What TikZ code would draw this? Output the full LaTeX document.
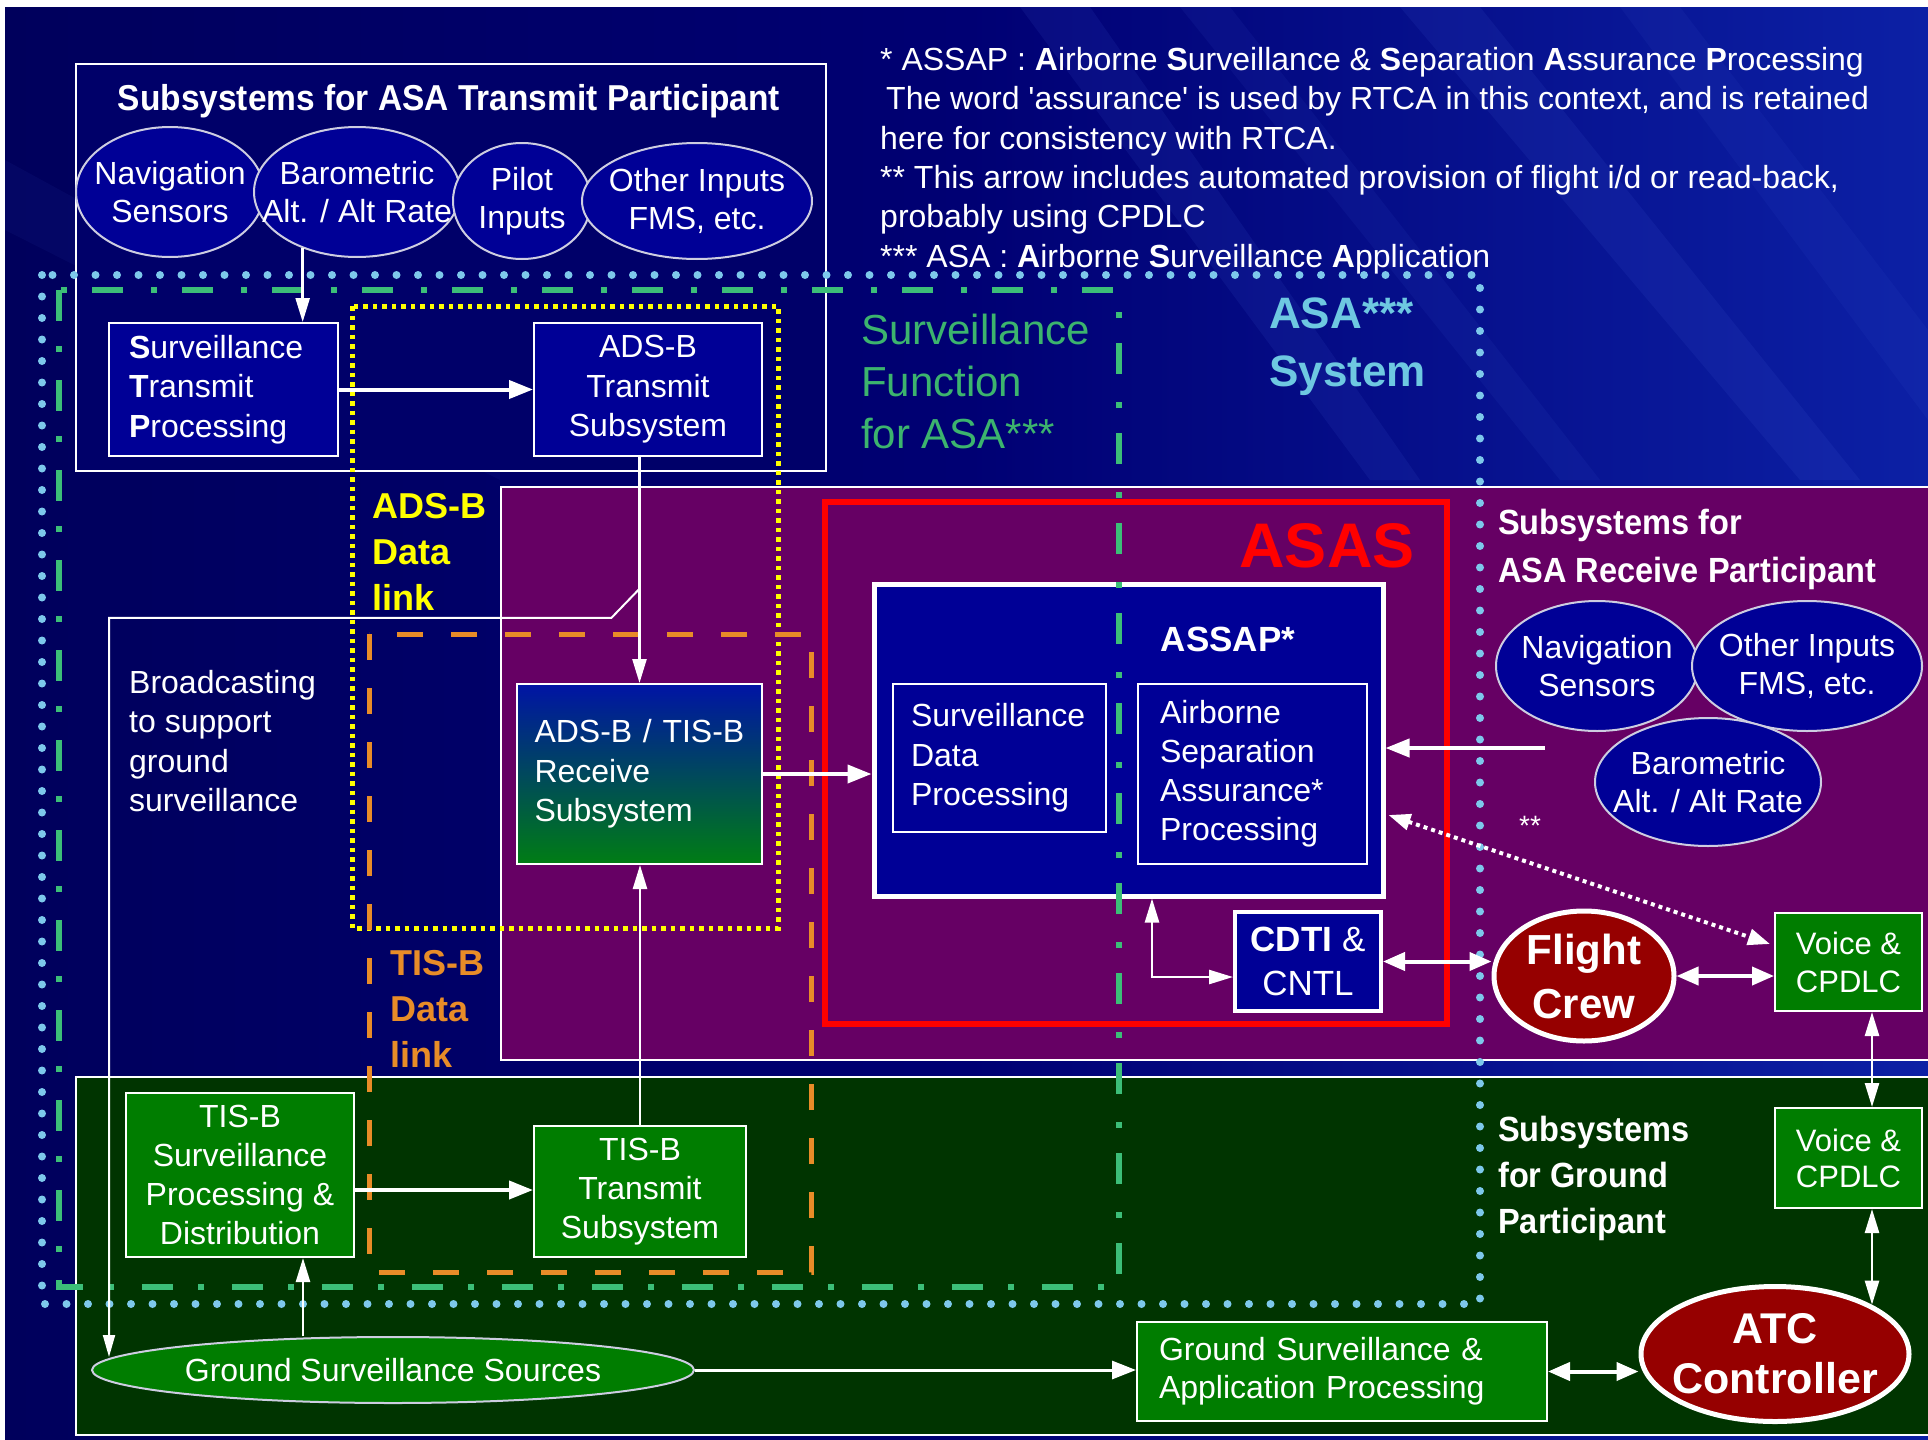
\documentclass[tikz,border=0pt]{standalone}
\usepackage{fontspec}
\setmainfont{Liberation Sans}[Ligatures=TeXOff]
\newfontfamily\nbfont[FakeStretch=0.93]{Liberation Sans}
\usetikzlibrary{shapes.geometric,arrows.meta,calc}
\definecolor{bgA}{RGB}{0,0,92}
\definecolor{bgB}{RGB}{0,0,115}
\definecolor{bgC}{RGB}{12,32,165}
\definecolor{navyb}{RGB}{0,0,150}
\definecolor{navyr}{RGB}{0,0,105}
\definecolor{purp}{RGB}{102,0,100}
\definecolor{dgreen}{RGB}{0,52,0}
\definecolor{gboxc}{RGB}{0,125,0}
\definecolor{dred}{RGB}{150,0,0}
\definecolor{ltblue}{RGB}{125,200,235}
\definecolor{dashgreen}{RGB}{60,190,120}
\definecolor{sfgreen}{RGB}{60,180,110}
\definecolor{asablue}{RGB}{110,200,225}
\definecolor{dyellow}{RGB}{255,255,0}
\definecolor{dorange}{RGB}{232,140,40}
\definecolor{ellline}{RGB}{205,205,225}
\definecolor{rxtop}{RGB}{0,20,165}
\definecolor{rxbot}{RGB}{0,125,20}
\definecolor{streak}{RGB}{80,110,230}
\newcommand\fsz[2]{\fontsize{#1}{#2}\selectfont}
\begin{document}
\begin{tikzpicture}[x=1pt,y=-1pt,
  every node/.style={text=white, inner sep=0pt},
  nbox/.style={draw=white, line width=2pt, fill=navyb, align=center, font=\fsz{32}{39.5}},
  gbx/.style={nbox, fill=gboxc},
  ell/.style={ellipse, draw=ellline, line width=2pt, fill=navyb, inner sep=0pt},
  etxt/.style={font=\fsz{32}{38}, align=center, text=white, inner sep=0pt},
  wa/.style={draw=white, line width=4pt, -{Triangle[length=24pt,width=18pt]}},
  wda/.style={draw=white, line width=4pt, {Triangle[length=22pt,width=18pt]}-{Triangle[length=22pt,width=18pt]}},
  ta/.style={draw=white, line width=2.5pt, -{Triangle[length=24pt,width=14pt]}},
  tda/.style={draw=white, line width=2.5pt, {Triangle[length=24pt,width=14pt]}-{Triangle[length=24pt,width=14pt]}}
]
\useasboundingbox (0,0) rectangle (1928,1440);
\clip (0,0) rectangle (1928,1440);
\fill[white] (0,0) rectangle (1928,1440);
\shade[left color=bgA, right color=bgC, middle color=bgB] (5,7) rectangle (1928,1440);
% background streaks
\fill[streak, opacity=0.10] (1020,7) -- (1090,7) -- (1420,480) -- (1370,480) -- cycle;
\fill[streak, opacity=0.08] (1180,7) -- (1230,7) -- (1600,480) -- (1560,480) -- cycle;
\fill[streak, opacity=0.10] (1400,7) -- (1480,7) -- (1860,480) -- (1800,480) -- cycle;
\fill[streak, opacity=0.07] (1620,7) -- (1680,7) -- (1928,330) -- (1928,420) -- cycle;
\fill[streak, opacity=0.06] (5,160) -- (5,230) -- (500,480) -- (500,430) -- cycle;

% regions
\draw[white, line width=2pt, fill=navyr] (76,64) rectangle (826,471);
\draw[white, line width=2pt, fill=purp] (501,487) rectangle (1940,1060);
\draw[white, line width=2pt, fill=dgreen] (76,1077) rectangle (1940,1435);

% top ellipses
\node[ell, minimum width=188pt, minimum height=130pt, label={[etxt]center:{Navigation\\Sensors}}] (nav1) at (170,192) {};
\node[ell, minimum width=206pt, minimum height=130pt, label={[etxt]center:{Barometric\\Alt. / Alt Rate}}] (baro1) at (357,192) {};
\node[ell, minimum width=138pt, minimum height=116pt, label={[etxt]center:{Pilot\\Inputs}}] (pilot) at (522,201) {};
\node[ell, minimum width=230pt, minimum height=116pt, label={[etxt]center:{Other Inputs\\FMS, etc.}}] (other1) at (697,201) {};

% transmit boxes
\node[nbox, minimum width=229pt, minimum height=133pt, text width=189pt, align=left] (stp) at (223.5,389.5) {\textbf{S}urveillance\\\textbf{T}ransmit\\\textbf{P}rocessing};
\node[nbox, minimum width=228pt, minimum height=133pt] (adsbtx) at (648,389.5) {ADS-B\\Transmit\\Subsystem};

% receive box
\node[nbox, top color=rxtop, bottom color=rxbot, minimum width=245pt, minimum height=180pt, text width=210pt, align=left] (rx) at (639.5,774) {ADS-B / TIS-B\\Receive\\Subsystem};

% ASAS
\draw[red, line width=6pt] (825,502) rectangle (1447,1024);
\node[font=\bfseries\fsz{63}{70}, text=red] (asas) at (1327,546) {ASAS};
\node[nbox, line width=5pt, minimum width=509pt, minimum height=312pt] (assap) at (1128.5,740) {};
\node[font=\bfseries\fsz{35}{40}] (assapt) at (1228,639) {ASSAP*};
\node[nbox, minimum width=213pt, minimum height=148pt, text width=177pt, align=left] (sdp) at (999.5,758) {Surveillance\\Data\\Processing};
\node[nbox, minimum width=229pt, minimum height=180pt, text width=185pt, align=left, font=\fsz{32}{39}] (asp) at (1252.5,774) {Airborne\\Separation\\Assurance*\\Processing};
\node[nbox, line width=4pt, minimum width=146pt, minimum height=99pt, font=\fsz{35}{44}] (cdti) at (1308,961.5) {\textbf{CDTI} \&\\CNTL};

% receive ellipses
\node[ell, minimum width=202pt, minimum height=130pt, label={[etxt]center:{Navigation\\Sensors}}] (nav2) at (1597,666) {};
\node[ell, minimum width=230pt, minimum height=130pt, label={[etxt]center:{Other Inputs\\FMS, etc.}}] (other2) at (1807,666) {};
\node[ell, minimum width=226pt, minimum height=128pt, label={[etxt]center:{Barometric\\Alt. / Alt Rate}}] (baro2) at (1708,782) {};

% crew, voice
\node[ell, fill=dred, draw=white, line width=5pt, minimum width=180pt, minimum height=130pt, label={[etxt, font=\bfseries\fsz{42}{54}]center:{Flight\\Crew}}] (crew) at (1584,976) {};
\node[gbx, minimum width=147pt, minimum height=98pt, font=\fsz{31}{38}] (voice1) at (1848.5,962) {Voice \&\\CPDLC};
\node[gbx, minimum width=147pt, minimum height=100pt, font=\fsz{31}{36}] (voice2) at (1848.5,1158) {Voice \&\\CPDLC};

% ground
\node[gbx, minimum width=228pt, minimum height=164pt, font=\fsz{32}{39}] (tisspd) at (240,1175) {TIS-B\\Surveillance\\Processing \&\\Distribution};
\node[gbx, minimum width=212pt, minimum height=131pt, font=\fsz{32}{39}] (tistx) at (640,1191.5) {TIS-B\\Transmit\\Subsystem};
\node[gbx, minimum width=410pt, minimum height=99pt, text width=366pt, align=left, font=\fsz{32}{38}] (gsap) at (1342,1371.5) {Ground Surveillance \&\\Application Processing};
\node[ell, fill=gboxc, minimum width=602pt, minimum height=66pt, label={[etxt]center:{Ground Surveillance Sources}}] (gss) at (393,1370) {};
\node[ell, fill=dred, draw=white, line width=5pt, minimum width=268pt, minimum height=135pt, label={[etxt, font=\bfseries\fsz{43}{50}]center:{ATC\\Controller}}] (atc) at (1775,1354) {};

% region outlines
\draw[ltblue, line width=8pt, line cap=round, dash pattern=on 0pt off 21.5pt] (42,275) rectangle (1480,1304);
\draw[dashgreen, line width=6pt, dash pattern=on 31pt off 25pt on 6pt off 28pt] (59,290) rectangle (1119,1287);
\draw[dyellow, line width=5pt, dash pattern=on 4.5pt off 5pt] (352,306) rectangle (778,928);
\draw[dorange, line width=5pt, dash pattern=on 26pt off 28pt] (369,634) rectangle (811,1272);

% connectors
\draw[ta] (baro1.-134) -- (baro1.-134 |- stp.north);
\draw[wa] (stp.east) -- (adsbtx.west);
\coordinate (adsbot) at (adsbtx.south -| rx.north);
\draw[ta] (adsbot) -- (rx.north);
\draw[ta] (tistx.north) -- (tistx.north |- rx.south);
\coordinate (brk) at ($(adsbot)!0.583!(rx.north)$);
\coordinate (gsstop) at (109,1357);
\draw[white, line width=2pt, -{Triangle[length=22pt,width=12pt]}] (brk) -- ++(-28,29) -| (gsstop);
\draw[wa] (rx.east) -- (rx.east -| assap.west);
\coordinate (rin) at (1545,748);
\draw[wa] (rin) -- (rin -| assap.east);
\draw[white, line width=4pt, dash pattern=on 4pt off 4pt, {Triangle[length=22pt,width=16pt]}-{Triangle[length=22pt,width=16pt]}] ($(assap.east)+(3,75)$) -- ($(voice1.west)+(-4,-18)$);
\draw[tda] ($(assap.south)+(23.5,0)$) |- ($(cdti.west)+(0,15.5)$);
\draw[wda] (cdti.east) -- (cdti.east -| crew.west);
\draw[wda] (crew.east) -- (crew.east -| voice1.west);
\draw[tda] ($(voice1.south)+(23.5,0)$) -- ($(voice2.north)+(23.5,0)$);
\coordinate (v2x) at ($(voice2.south)+(23.5,0)$);
\draw[tda] (v2x) -- (v2x |- atc.27);
\draw[wda] (gsap.east) -- (gsap.east -| atc.west);
\draw[wa, line width=3pt] (gss.east) -- (gss.east -| gsap.west);
\coordinate (spdx) at ($(tisspd.south)+(63,0)$);
\draw[ta] (gss.north -| spdx) -- (spdx);
\coordinate (spdr) at ($(tisspd.east)+(0,15)$);
\draw[wa] (spdr) -- (spdr -| tistx.west);

% texts
\node[font=\nbfont\bfseries\fsz{36}{40}] (tptitle) at (449,101) {Subsystems for ASA Transmit Participant};
\node[anchor=west, align=left, font=\nbfont\bfseries\fsz{35}{48}] (rxtitle) at (1498,549) {Subsystems for\\ASA Receive Participant};
\node[anchor=west, align=left, font=\nbfont\bfseries\fsz{35}{46}] (gtitle) at (1498,1178) {Subsystems\\for Ground\\Participant};
\node[anchor=west, align=left, font=\fsz{42}{52}, text=sfgreen] (sftext) at (861,381) {Surveillance\\Function\\for ASA***};
\node[anchor=west, align=left, font=\bfseries\fsz{44}{58}, text=asablue] (asatext) at (1269,347) {ASA***\\System};
\node[anchor=west, align=left, font=\bfseries\fsz{36}{46}, text=dyellow] (adsblink) at (372,552) {ADS-B\\Data\\link};
\node[anchor=west, align=left, font=\bfseries\fsz{36}{46}, text=dorange] (tisblink) at (390,1009) {TIS-B\\Data\\link};
\node[anchor=west, align=left, font=\fsz{32}{39.5}] (bcast) at (129,741) {Broadcasting\\to support\\ground\\surveillance};
\node[font=\fsz{28}{30}] (dstar) at (1530,826) {**};
\node[anchor=north west, align=left, font=\fsz{32}{39.4}] (notes) at (880,47) {* ASSAP : \textbf{A}irborne \textbf{S}urveillance \& \textbf{S}eparation \textbf{A}ssurance \textbf{P}rocessing\\
\hspace{6pt}The word 'assurance' is used by RTCA in this context, and is retained\\
here for consistency with RTCA.\\
** This arrow includes automated provision of flight i/d or read-back,\\
probably using CPDLC\\
*** ASA : \textbf{A}irborne \textbf{S}urveillance \textbf{A}pplication};
\end{tikzpicture}
\end{document}
